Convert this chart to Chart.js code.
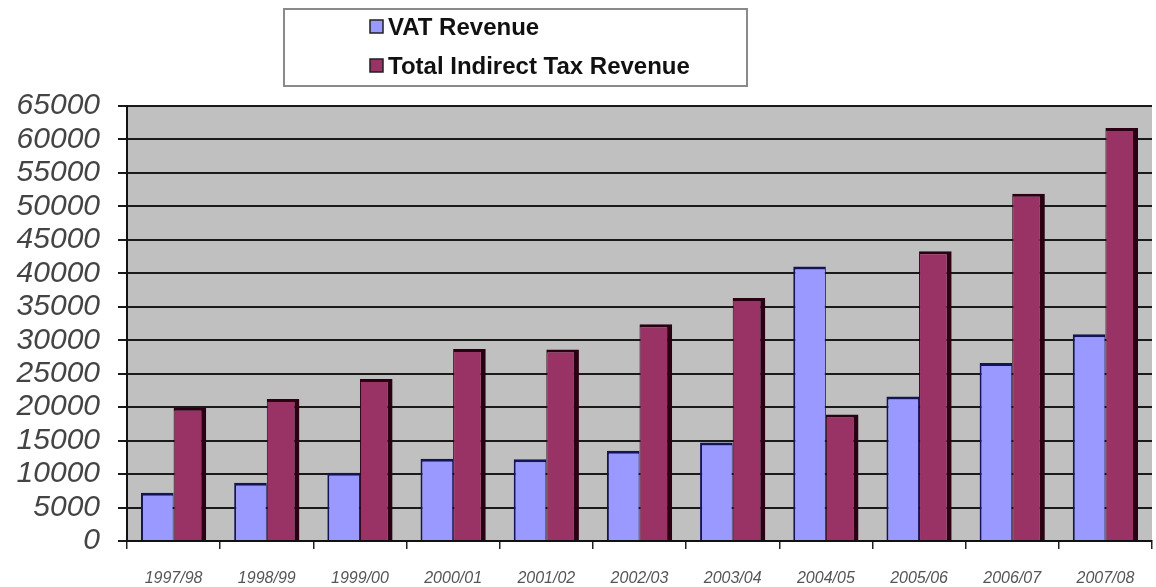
<!DOCTYPE html>
<html lang="en">

<head>
  <meta charset="UTF-8">
  <title>VAT and Indirect Tax Revenue</title>
  <script src="https://cdn.jsdelivr.net/npm/chart.js"></script>
  <style>
    html, body { margin: 0; padding: 0; background: #fff; }
    #grafico { width: 1156px; height: 587px; }
  </style>
</head>

<body>
  <div id="grafico">
    <canvas id="receitaChart"></canvas>
  </div>

  <script>
    // fiscal years and revenue series
    var anos = ['1997/98', '1998/99', '1999/00', '2000/01', '2001/02', '2002/03',
      '2003/04', '2004/05', '2005/06', '2006/07', '2007/08'];
    var receitaIva = [7200, 8700, 10200, 12300, 12200, 13500, 14700, 41000, 21600, 26600, 30900];
    var receitaIndireta = [19900, 21200, 24200, 28700, 28600, 32400, 36300, 18900, 43300, 51900, 61700];
    var ticksY = [0, 5000, 10000, 15000, 20000, 25000, 30000, 35000, 40000, 45000, 50000, 55000, 60000, 65000];

    // grey plot area behind the bars
    var fundoPlot = {
      id: 'fundoPlot',
      beforeDraw: function (chart) {
        var a = chart.chartArea;
        var ctx = chart.ctx;
        ctx.save();
        ctx.fillStyle = '#c0c0c0';
        ctx.fillRect(a.left, a.top, a.right - a.left, a.bottom - a.top);
        ctx.restore();
      }
    };

    // boxed legend, one entry per line
    var legendaCaixa = {
      id: 'legendaCaixa',
      afterDraw: function (chart) {
        var ctx = chart.ctx;
        ctx.save();
        ctx.strokeStyle = '#8a8a8a';
        ctx.lineWidth = 2;
        ctx.strokeRect(284, 9, 463, 77);
        ctx.font = 'bold 24px "Liberation Sans", Arial, sans-serif';
        ctx.textBaseline = 'middle';
        var linhas = [27, 66];
        chart.data.datasets.forEach(function (ds, i) {
          var y = linhas[i];
          ctx.fillStyle = ds.backgroundColor;
          ctx.fillRect(370, y - 7, 13, 13);
          ctx.strokeStyle = '#202020';
          ctx.lineWidth = 1.5;
          ctx.strokeRect(370, y - 7, 13, 13);
          ctx.fillStyle = '#111';
          ctx.fillText(ds.label, 388, y + 1);
        });
        ctx.restore();
      }
    };

    var ctx = document.getElementById('receitaChart').getContext('2d');
    var receitaChart = new Chart(ctx, {
      type: 'bar',
      data: {
        labels: anos,
        datasets: [
          {
            label: 'VAT Revenue',
            data: receitaIva,
            backgroundColor: '#9999ff',
            borderColor: '#14145a',
            borderWidth: { top: 3, right: 1, left: 2, bottom: 0 },
            borderSkipped: 'bottom'
          },
          {
            label: 'Total Indirect Tax Revenue',
            data: receitaIndireta,
            backgroundColor: '#993366',
            borderColor: '#2a0012',
            borderWidth: { top: 3, right: 5, left: 1, bottom: 0 },
            borderSkipped: 'bottom'
          }
        ]
      },
      options: {
        responsive: true,
        maintainAspectRatio: false,
        animation: false,
        layout: { padding: { top: 106, right: 4, left: 0, bottom: 0 } },
        datasets: {
          bar: { categoryPercentage: 0.7, barPercentage: 1.0 }
        },
        plugins: {
          legend: { display: false },
          tooltip: { enabled: false }
        },
        scales: {
          x: {
            grid: {
              offset: true,
              drawOnChartArea: false,
              drawTicks: true,
              tickLength: 8,
              color: '#222',
              lineWidth: 1.5
            },
            border: { color: '#111', width: 2 },
            ticks: {
              color: '#555',
              padding: 20,
              maxRotation: 0,
              autoSkip: false,
              font: { family: '"Liberation Sans", Arial, sans-serif', size: 16, style: 'italic' }
            },
            afterFit: function (escala) { escala.height = 46; }
          },
          y: {
            min: 0,
            max: 65000,
            afterBuildTicks: function (escala) {
              escala.ticks = ticksY.map(function (v) { return { value: v }; });
            },
            grid: {
              color: '#1a1a1a',
              lineWidth: 2,
              tickLength: 9
            },
            border: { color: '#111', width: 2 },
            ticks: {
              color: '#444',
              padding: 18,
              autoSkip: false,
              callback: function (valor) { return String(valor); },
              font: { family: '"Liberation Sans", Arial, sans-serif', size: 30, style: 'italic' }
            },
            afterFit: function (escala) { escala.width = 127; }
          }
        }
      },
      plugins: [fundoPlot, legendaCaixa]
    });
  </script>
</body>

</html>
